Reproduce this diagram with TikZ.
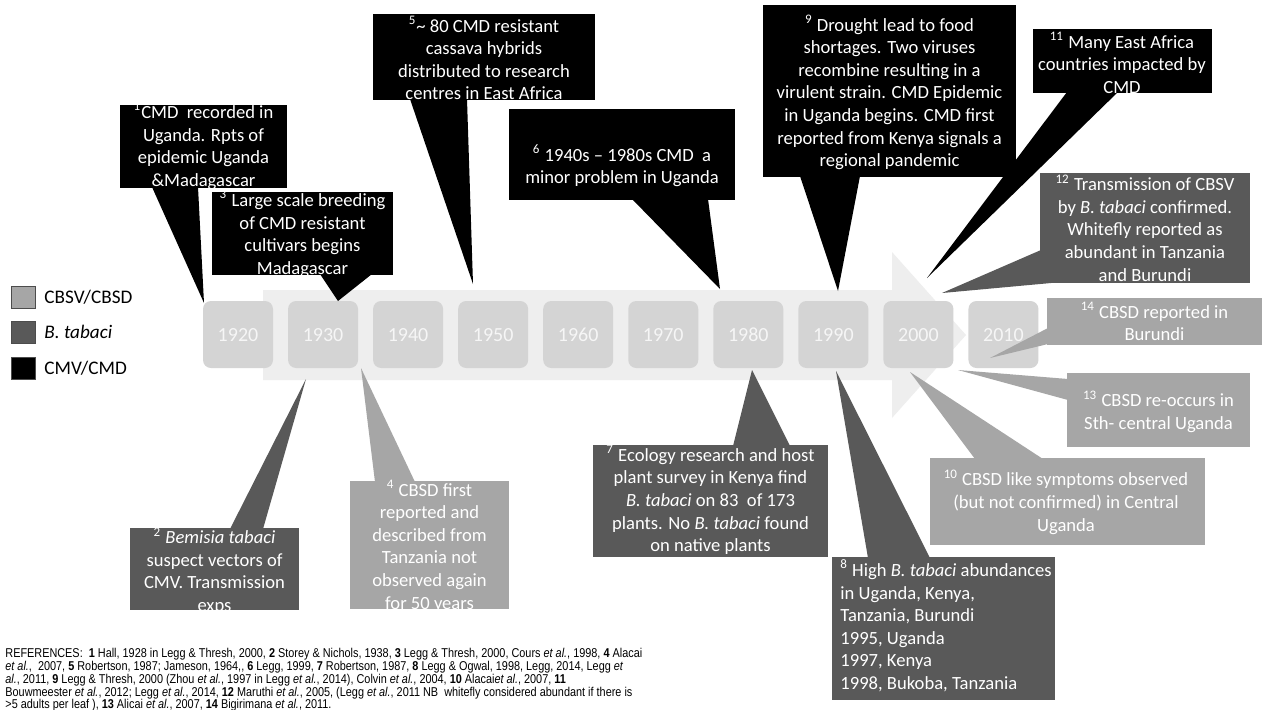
\documentclass[tikz,border=0pt]{standalone}
\usepackage{fontspec}
\setmainfont{Carlito}
\newfontfamily\reffont[FakeStretch=0.85]{Liberation Sans}
\usetikzlibrary{calc}
\definecolor{cbsd}{HTML}{A6A6A6}
\definecolor{btab}{HTML}{595959}
\definecolor{arrowgray}{HTML}{EEEEEE}
\definecolor{yeargray}{HTML}{D4D4D4}
\definecolor{yeartext}{HTML}{F6F6F6}
\newcommand{\calfont}{\fontsize{9.3}{11.3}\selectfont}
\newcommand{\yrfont}{\fontsize{10}{12}\selectfont}
\newcommand{\lgfont}{\fontsize{9.6}{11}\selectfont}
\begin{document}
\begin{tikzpicture}[x=0.5pt,y=-0.5pt,
  cbox/.style={rectangle, inner sep=0pt, outer sep=0pt},
  blackbox/.style={cbox, fill=black},
  darkbox/.style={cbox, fill=btab},
  lightbox/.style={cbox, fill=cbsd},
  ctext/.style={text=white, align=center, inner sep=0pt, font=\calfont},
  yearbox/.style={rectangle, rounded corners=4pt, fill=yeargray, minimum width=35pt, minimum height=33.5pt, inner sep=0pt, text=yeartext, font=\yrfont, text height=6.6pt, text depth=0pt},
  legsq/.style={rectangle, draw=black!70, line width=0.4pt, minimum width=12pt, minimum height=11pt, inner sep=0pt},
  legtext/.style={anchor=west, inner sep=0pt, font=\lgfont},
  reftext/.style={anchor=west, inner sep=0pt, font=\reffont\fontsize{6.4}{7}\selectfont},
]
\fill[white] (0,0) rectangle (1265,709);
\useasboundingbox (0,0) rectangle (1265,709);

% big arrow
\fill[arrowgray] (263,290) -- (892,290) -- (892,252) -- (966,335) -- (892,418) -- (892,380) -- (263,380) -- cycle;

% year boxes
\foreach \i/\yr in {0/1920,1/1930,2/1940,3/1950,4/1960,5/1970,6/1980,7/1990,8/2000,9/2010}
  \node[yearbox] (y\yr) at ({238+85.05*\i},334.5) {\yr};

% legend
\node[legsq, fill=cbsd] (lg1) at (23,297) {};
\node[legsq, fill=btab] (lg2) at (23,332) {};
\node[legsq, fill=black] (lg3) at (23,368) {};
\node[legtext] (lt1) at (44,297) {CBSV/CBSD};
\node[legtext] (lt2) at (44,332) {\textit{B. tabaci}};
\node[legtext] (lt3) at (44,368) {CMV/CMD};

% callout boxes
\node[blackbox, minimum width=83.5pt, minimum height=41.5pt] (c1) at (203.5,146.5) {};
\node[blackbox, minimum width=90.5pt, minimum height=41.5pt] (c3) at (302.5,233.5) {};
\node[blackbox, minimum width=111pt, minimum height=43pt] (c5) at (484,57) {};
\node[blackbox, minimum width=113pt, minimum height=45.5pt] (c6) at (622,154.5) {};
\node[blackbox, minimum width=126.5pt, minimum height=86pt] (c9) at (889.5,91) {};
\node[blackbox, minimum width=89.5pt, minimum height=32pt] (c11) at (1122.5,61) {};
\node[darkbox, minimum width=105pt, minimum height=55pt] (c12) at (1145,228) {};
\node[lightbox, minimum width=107.5pt, minimum height=23.5pt] (c14) at (1154.5,321.5) {};
\node[lightbox, minimum width=91.5pt, minimum height=37pt] (c13) at (1158.5,410) {};
\node[lightbox, minimum width=137.5pt, minimum height=43.5pt] (c10) at (1067.5,501.5) {};
\node[darkbox, minimum width=117.5pt, minimum height=56pt] (c7) at (710.5,501) {};
\node[darkbox, minimum width=111.5pt, minimum height=71.5pt] (c8) at (943.5,628.5) {};
\node[lightbox, minimum width=79.5pt, minimum height=64pt] (c4) at (429.5,545) {};
\node[darkbox, minimum width=84.5pt, minimum height=41pt] (c2) at (214.5,569) {};

% tail tips
\coordinate (p1) at (204,303);
\coordinate (p3) at (338,301);
\coordinate (p5) at (473,284);
\coordinate (p6) at (720,289);
\coordinate (p9) at (838,291);
\coordinate (p11) at (927,278);
\coordinate (p12) at (942,293);
\coordinate (p14) at (990,358);
\coordinate (p13) at (958,370);
\coordinate (p10) at (910,372);
\coordinate (p7) at (752,370);
\coordinate (p8) at (836,371);
\coordinate (p4) at (361,368);
\coordinate (p2) at (306,379);

% tails
\fill[black] (152,187) -- (p1) -- (198,187) -- cycle;
\fill[black] (320,274) -- (p3) -- (372,274) -- cycle;
\fill[black] (410,99) -- (p5) -- (467,99) -- cycle;
\fill[black] (632,199) -- (p6) -- (708,199) -- cycle;
\fill[black] (800,176) -- (p9) -- (860,176) -- cycle;
\fill[black] (1067,92) -- (p11) -- (1118,92) -- cycle;
\fill[btab] (1041,250) -- (p12) -- (1062,282) -- cycle;
\fill[cbsd] (1048,328) -- (p14) -- (1048,344) -- cycle;
\fill[cbsd] (1068,379) -- (p13) -- (1068,400) -- cycle;
\fill[cbsd] (975,459) -- (p10) -- (1043,459) -- cycle;
\fill[btab] (733,446) -- (p7) -- (790,446) -- cycle;
\fill[btab] (868,558) -- (p8) -- (930,558) -- cycle;
\fill[cbsd] (375,482) -- (p4) -- (415,482) -- cycle;
\fill[btab] (230,529) -- (p2) -- (263,529) -- cycle;

% callout texts
\node[ctext] (t1) at (203.5,146) {\textsuperscript{1}CMD\ \ recorded in\\Uganda. Rpts of\\epidemic Uganda\\\&Madagascar};
\node[ctext] (t3) at (302.5,234) {\textsuperscript{3} Large scale breeding\\of CMD resistant\\cultivars begins\\Madagascar};
\node[ctext] (t5) at (484,58) {\textsuperscript{5}\textasciitilde{} 80 CMD resistant\\cassava hybrids\\distributed to research\\centres in East Africa};
\node[ctext] (t6) at (622,166) {\textsuperscript{6} 1940s – 1980s CMD\ \ a\\minor problem in Uganda};
\node[ctext] (t9) at (889.5,92.5) {\textsuperscript{9} Drought lead to food\\shortages. Two viruses\\recombine resulting in a\\virulent strain. CMD Epidemic\\in Uganda begins. CMD first\\reported from Kenya signals a\\regional pandemic};
\node[ctext] (t11) at (1122,63) {\textsuperscript{11} Many East Africa\\countries impacted by\\CMD};
\node[ctext] (t12) at (1145,228) {\textsuperscript{12} Transmission of CBSV\\by \textit{B. tabaci} confirmed.\\Whitefly reported as\\abundant in Tanzania\\and Burundi};
\node[ctext] (t14) at (1154.5,321.5) {\textsuperscript{14} CBSD reported in\\Burundi};
\node[ctext] (t13) at (1158.5,411.5) {\textsuperscript{13} CBSD re-occurs in\\Sth- central Uganda};
\node[ctext] (t10) at (1066,502) {\textsuperscript{10} CBSD like symptoms observed\\(but not confirmed) in Central\\Uganda};
\node[ctext] (t7) at (710.5,500) {\textsuperscript{7} Ecology research and host\\plant survey in Kenya find\\\textit{B. tabaci} on 83\ \ of 173\\plants. No \textit{B. tabaci} found\\on native plants};
\node[ctext, align=left, anchor=west] (t8) at (840,626) {\textsuperscript{8} High \textit{B. tabaci} abundances\\in Uganda, Kenya,\\Tanzania, Burundi\\1995, Uganda\\1997, Kenya\\1998, Bukoba, Tanzania};
\node[ctext] (t4) at (429.5,546) {\textsuperscript{4} CBSD first\\reported and\\described from\\Tanzania not\\observed again\\for 50 years};
\node[ctext] (t2) at (214.5,571) {\textsuperscript{2} \textit{Bemisia tabaci}\\suspect vectors of\\CMV. Transmission\\exps};

% references
\node[reftext] (r1) at (5,654) {REFERENCES:\ \ \textbf{1} Hall, 1928 in Legg \& Thresh, 2000, \textbf{2} Storey \& Nichols, 1938, \textbf{3} Legg \& Thresh, 2000, Cours \textit{et al.}, 1998, \textbf{4} Alacai};
\node[reftext] (r2) at (5,667) {\textit{et al.},\ \ 2007, \textbf{5} Robertson, 1987; Jameson, 1964,, \textbf{6} Legg, 1999, \textbf{7} Robertson, 1987, \textbf{8} Legg \& Ogwal, 1998, Legg, 2014, Legg \textit{et}};
\node[reftext] (r3) at (5,680) {\textit{al.}, 2011, \textbf{9} Legg \& Thresh, 2000 (Zhou \textit{et al.}, 1997 in Legg \textit{et al.}, 2014), Colvin \textit{et al.}, 2004, \textbf{10} Alacai\textit{et al.}, 2007, \textbf{11}};
\node[reftext] (r4) at (5,693) {Bouwmeester \textit{et al.}, 2012; Legg \textit{et al.}, 2014, \textbf{12} Maruthi \textit{et al.}, 2005, (Legg \textit{et al.}, 2011 NB\ \ whitefly considered abundant if there is};
\node[reftext] (r5) at (5,705) {>5 adults per leaf ), \textbf{13} Alicai \textit{et al.}, 2007, \textbf{14} Bigirimana \textit{et al.}, 2011.};
\end{tikzpicture}
\end{document}
